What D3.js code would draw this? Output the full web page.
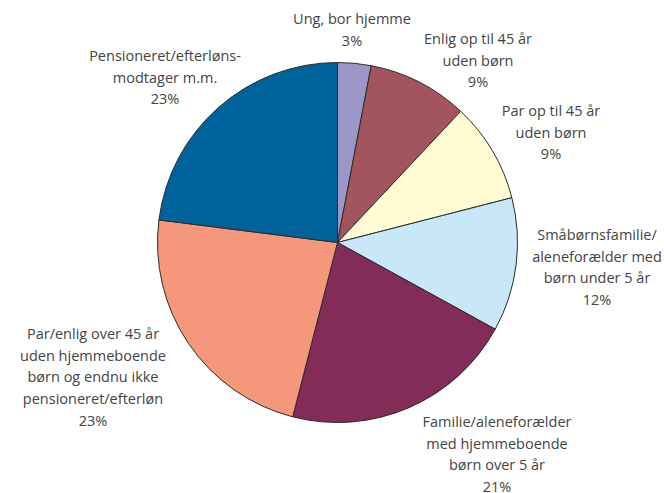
<!DOCTYPE html>
<meta charset="utf-8">
<head>
  <meta charset="utf-8">
  <title>Husstandstyper</title>
  <script src="https://d3js.org/d3.v7.min.js"></script>
  <style>
    body { margin: 0; background: #fff; }
    .label text {
      font-family: "Open Sans", "DejaVu Sans", sans-serif;
      font-size: 14.5px;
      fill: #444;
    }
    .slice {
      stroke: #2b2b2b;
      stroke-width: 1;
    }
  </style>
</head>
<body>
<div id="chart"></div>
<script>

// data, clockwise from 12 o'clock
var categories = [
  ["Ung, bor hjemme"],
  ["Enlig op til 45 år", "uden børn"],
  ["Par op til 45 år", "uden børn"],
  ["Småbørnsfamilie/", "aleneforælder med", "børn under 5 år"],
  ["Familie/aleneforælder", "med hjemmeboende", "børn over 5 år"],
  ["Par/enlig over 45 år", "uden hjemmeboende", "børn og endnu ikke", "pensioneret/efterløn"],
  ["Pensioneret/efterløns-", "modtager m.m."]
];
var values = [3, 9, 9, 12, 21, 23, 23];
var colors = ["#9d97c8", "#a3555f", "#fffcd4", "#c8e8f9", "#842c58", "#f4977a", "#00629a"];

// where the label blocks sit (centre x, first line baseline y)
var labelPos = [[352, 24], [478, 44], [551, 116], [597, 240], [497, 427], [93, 339], [165, 61]];

var width = 664, height = 493;
var cx = 337.5, cy = 242.5, radius = 180;
var lineH = 21.7;

var svg = d3.select("#chart")
  .append("svg")
    .attr("width", width)
    .attr("height", height);

var pie = d3.pie().sort(null).value(function(d) { return d; });
var arc = d3.arc().innerRadius(0).outerRadius(radius);

var g = svg.append("g")
  .attr("transform", "translate(" + cx + "," + cy + ")");

g.selectAll("path")
  .data(pie(values))
  .enter()
  .append("path")
    .attr("class", "slice")
    .attr("d", arc)
    .attr("fill", function(d, i) { return colors[i]; });

// labels
var labels = svg.append("g").attr("class", "label")
  .selectAll("text")
  .data(categories)
  .enter()
  .append("text")
    .attr("text-anchor", "middle")
    .attr("x", function(d, i) { return labelPos[i][0]; })
    .attr("y", function(d, i) { return labelPos[i][1]; });

labels.each(function(d, i) {
  var t = d3.select(this);
  d.concat([values[i] + "%"]).forEach(function(line, j) {
    t.append("tspan")
      .attr("x", labelPos[i][0])
      .attr("dy", j === 0 ? 0 : lineH)
      .text(line);
  });
});

</script>
</body>
